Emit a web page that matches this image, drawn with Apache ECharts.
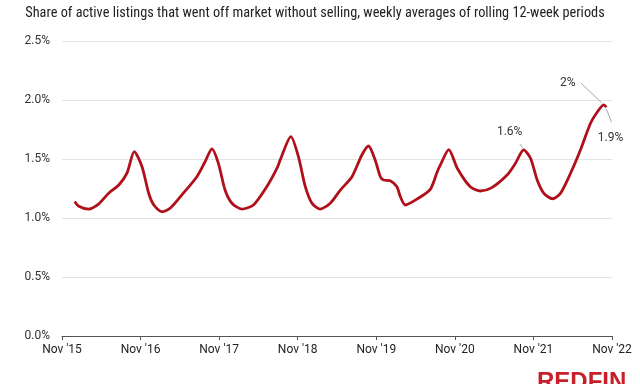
<!DOCTYPE html>
<html><head><meta charset="utf-8">
<script src="https://cdn.jsdelivr.net/npm/echarts@6/dist/echarts.min.js"></script>
<style>html,body{margin:0;padding:0;background:#fff}#c{width:640px;height:384px}</style>
</head><body><div id="c"></div>
<script>
const subtitle = "Share of active listings that went off market without selling, weekly averages of rolling 12-week periods";
const xTickLabels = ["Nov '15","Nov '16","Nov '17","Nov '18","Nov '19","Nov '20","Nov '21","Nov '22"];
const yTicks = [0, 0.5, 1.0, 1.5, 2.0, 2.5];
const dates = [
 "2015-12-30","2016-01-18","2016-03-04","2016-04-20","2016-06-05","2016-07-22","2016-08-29","2016-10-02","2016-11-07","2016-12-08",
 "2017-01-01","2017-02-08","2017-03-19","2017-05-18","2017-07-20","2017-08-27","2017-09-28","2017-10-28","2017-11-28","2017-12-30",
 "2018-02-14","2018-04-09","2018-06-10","2018-07-27","2018-08-11","2018-09-30","2018-11-04","2018-12-06","2019-01-06","2019-02-13",
 "2019-04-01","2019-05-18","2019-07-11","2019-08-26","2019-09-26","2019-10-27","2019-11-20","2019-12-05","2020-01-05","2020-02-05",
 "2020-02-21","2020-03-15","2020-05-08","2020-07-09","2020-08-10","2020-08-25","2020-10-03","2020-11-12","2021-01-11","2021-02-27",
 "2021-04-19","2021-07-01","2021-08-09","2021-09-16","2021-10-18","2021-11-18","2021-12-19","2022-01-28","2022-03-06","2022-04-22",
 "2022-06-07","2022-07-24","2022-08-31","2022-09-24","2022-10-06"
];
const values = [
 1.14,1.10,1.076,1.12,1.21,1.28,1.38,1.562,1.435,1.21,
 1.11,1.053,1.085,1.21,1.35,1.477,1.585,1.463,1.237,1.125,
 1.076,1.11,1.265,1.42,1.49,1.69,1.52,1.265,1.125,1.076,
 1.125,1.237,1.35,1.534,1.61,1.49,1.35,1.322,1.316,1.265,
 1.18,1.11,1.16,1.243,1.39,1.45,1.58,1.42,1.265,1.229,
 1.255,1.364,1.464,1.578,1.506,1.322,1.209,1.163,1.209,1.379,
 1.576,1.803,1.915,1.958,1.94
];
const annotationIdx = [53, 63, 64];
const annotationText = ["1.6%", "2%", "1.9%"];

const start = Date.parse("2015-11-01");
const yearMs = 365.25 * 864e5;
const xOf = d => (Date.parse(d) - start) / yearMs;
const seriesData = dates.map((d, i) => [xOf(d), values[i]]);

const chart = echarts.init(document.getElementById('c'), null, {renderer: 'canvas'});
const FONT = 'Roboto, "Noto Sans", sans-serif';
chart.setOption({
  animation: false,
  backgroundColor: '#fff',
  grid: {left: 62, right: 28, top: 41, bottom: 48},
  xAxis: {
    type: 'value', min: 0, max: 7, interval: 1,
    axisLine: {show: true, lineStyle: {color: '#555', width: 1}},
    axisTick: {show: true, length: 4, lineStyle: {color: '#555'}},
    axisLabel: {formatter: v => xTickLabels[Math.round(v)], color: '#222', fontSize: 12, margin: 8, fontFamily: FONT},
    splitLine: {show: false}
  },
  yAxis: {
    type: 'value', min: yTicks[0], max: yTicks[yTicks.length - 1], interval: 0.5,
    axisLine: {show: false}, axisTick: {show: false},
    axisLabel: {formatter: v => v.toFixed(1) + '%', color: '#333', fontSize: 12, margin: 12, fontFamily: FONT},
    splitLine: {lineStyle: {color: '#e3e3e3', width: 1}}
  },
  series: [{
    type: 'line', data: seriesData, showSymbol: false, smooth: 0.25,
    lineStyle: {color: '#B0101A', width: 2.8}, itemStyle: {color: '#B0101A'}
  }]
});

const graphics = [
  {type: 'text', x: 315, y: 13,
   style: {text: subtitle, font: '14.3px "Roboto Condensed", Roboto, sans-serif', fill: '#222', align: 'center', verticalAlign: 'middle'}},
  {type: 'text', x: 537, y: 382,
   style: {text: 'REDFIN', font: 'bold 24px "Liberation Sans", Arial, sans-serif', fill: '#C8202A', align: 'left', verticalAlign: 'middle'}}
];

const layouts = [
  {ls: [-1, -2], le: [-4, -6], t: [-14, -18]},
  {ls: [-2, -2], le: [-23, -22], t: [-36, -22]},
  {ls: [0, 2], le: [5, 15], t: [4, 31]}
];
annotationIdx.forEach((idx, k) => {
  const p = chart.convertToPixel({gridIndex: 0}, seriesData[idx]);
  const L = layouts[k];
  graphics.push({type: 'line', shape: {x1: p[0] + L.ls[0], y1: p[1] + L.ls[1], x2: p[0] + L.le[0], y2: p[1] + L.le[1]},
    style: {stroke: '#aaa', lineWidth: 1}});
  graphics.push({type: 'text', x: p[0] + L.t[0], y: p[1] + L.t[1],
    style: {text: annotationText[k], font: '12px ' + FONT, fill: '#333', align: 'center', verticalAlign: 'middle'}});
});
chart.setOption({graphic: graphics});
</script>
</body></html>
